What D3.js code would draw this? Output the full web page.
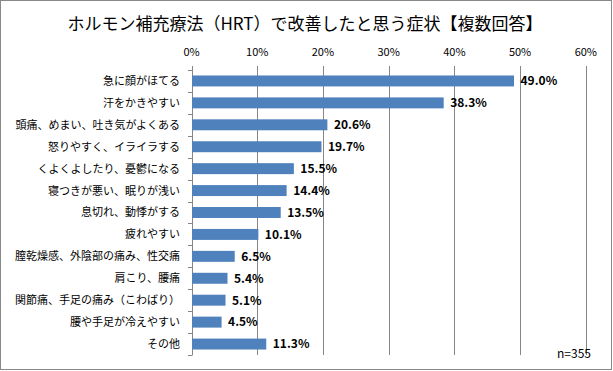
<!DOCTYPE html>
<html>
<head>
<meta charset="utf-8">
<script src="https://cdn.jsdelivr.net/npm/d3@7"></script>
<style>
  body { margin: 0; background: #fff; }
  text { font-family: "Noto Sans CJK JP", sans-serif; }
</style>
</head>
<body>
<div class="chart"></div>
<script>
// HRT chart - categories and values
var categories = [
  "急に顔がほてる",
  "汗をかきやすい",
  "頭痛、めまい、吐き気がよくある",
  "怒りやすく、イライラする",
  "くよくよしたり、憂鬱になる",
  "寝つきが悪い、眠りが浅い",
  "息切れ、動悸がする",
  "疲れやすい",
  "膣乾燥感、外陰部の痛み、性交痛",
  "肩こり、腰痛",
  "関節痛、手足の痛み（こわばり）",
  "腰や手足が冷えやすい",
  "その他"
];
var values = [49.0, 38.3, 20.6, 19.7, 15.5, 14.4, 13.5, 10.1, 6.5, 5.4, 5.1, 4.5, 11.3];
var ticks = [0, 10, 20, 30, 40, 50, 60];

var W = 613, H = 371;
var margin = {top: 70, right: 27, bottom: 16, left: 191.5};

var svg = d3.select(".chart").append("svg")
  .attr("width", W)
  .attr("height", H);

svg.append("rect")
  .attr("x", 0.5).attr("y", 0.5)
  .attr("width", W - 2).attr("height", H - 2)
  .attr("fill", "#fff")
  .attr("stroke", "#888")
  .attr("stroke-width", 1);

svg.append("text")
  .attr("x", 305).attr("y", 30)
  .attr("text-anchor", "middle")
  .attr("font-size", 17)
  .attr("fill", "#000")
  .text("ホルモン補充療法（HRT）で改善したと思う症状【複数回答】");

var x = d3.scaleLinear()
  .domain([0, 60])
  .range([margin.left, W - margin.right - 0.2]);

var y = d3.scaleBand()
  .domain(categories)
  .range([margin.top, H - margin.bottom])
  .paddingInner(0.5)
  .paddingOuter(0.25);

var plotTop = margin.top, plotBottom = H - margin.bottom;

// grid lines + top ticks
var grid = svg.append("g");
grid.selectAll("line")
  .data(ticks)
  .enter().append("line")
  .attr("x1", function(d) { return Math.round(x(d)) + 0.5; })
  .attr("x2", function(d) { return Math.round(x(d)) + 0.5; })
  .attr("y1", plotTop - 4)
  .attr("y2", plotBottom)
  .attr("stroke", "#868686");

svg.append("g").selectAll("text")
  .data(ticks)
  .enter().append("text")
  .attr("x", function(d) { return x(d); })
  .attr("y", 56)
  .attr("text-anchor", "middle")
  .attr("font-size", 11)
  .attr("font-family", "Liberation Sans, sans-serif")
  .attr("fill", "#000")
  .text(function(d) { return d + "%"; });

// left category axis ticks at band edges
var edges = d3.range(categories.length + 1).map(function(i) {
  return plotTop + i * (plotBottom - plotTop) / categories.length;
});
svg.append("g").selectAll("line")
  .data(edges)
  .enter().append("line")
  .attr("x1", Math.round(x(0)) - 4)
  .attr("x2", Math.round(x(0)) + 0.5)
  .attr("y1", function(d) { return Math.round(d) + 0.5; })
  .attr("y2", function(d) { return Math.round(d) + 0.5; })
  .attr("stroke", "#868686");

// bars
svg.append("g").selectAll("rect")
  .data(values)
  .enter().append("rect")
  .attr("x", x(0) + 0.5)
  .attr("y", function(d, i) { return y(categories[i]); })
  .attr("width", function(d) { return x(d) - x(0); })
  .attr("height", y.bandwidth())
  .attr("fill", "#4F81BD");

// category labels
svg.append("g").selectAll("text")
  .data(categories)
  .enter().append("text")
  .attr("x", 180)
  .attr("y", function(d) { return y(d) + y.bandwidth() / 2; })
  .attr("dy", "0.36em")
  .attr("text-anchor", "end")
  .attr("font-size", 11)
  .attr("fill", "#000")
  .text(function(d) { return d; });

// value labels
svg.append("g").selectAll("text")
  .data(values)
  .enter().append("text")
  .attr("x", function(d) { return x(d) + 7; })
  .attr("y", function(d, i) { return y(categories[i]) + y.bandwidth() / 2; })
  .attr("dy", "0.36em")
  .attr("font-size", 12)
  .attr("font-weight", "bold")
  .attr("font-family", "Liberation Sans, sans-serif")
  .attr("fill", "#000")
  .text(function(d) { return d.toFixed(1) + "%"; });

svg.append("text")
  .attr("x", 591).attr("y", 358)
  .attr("text-anchor", "end")
  .attr("font-size", 12)
  .attr("font-family", "Liberation Sans, sans-serif")
  .attr("fill", "#000")
  .text("n=355");
</script>
</body>
</html>
